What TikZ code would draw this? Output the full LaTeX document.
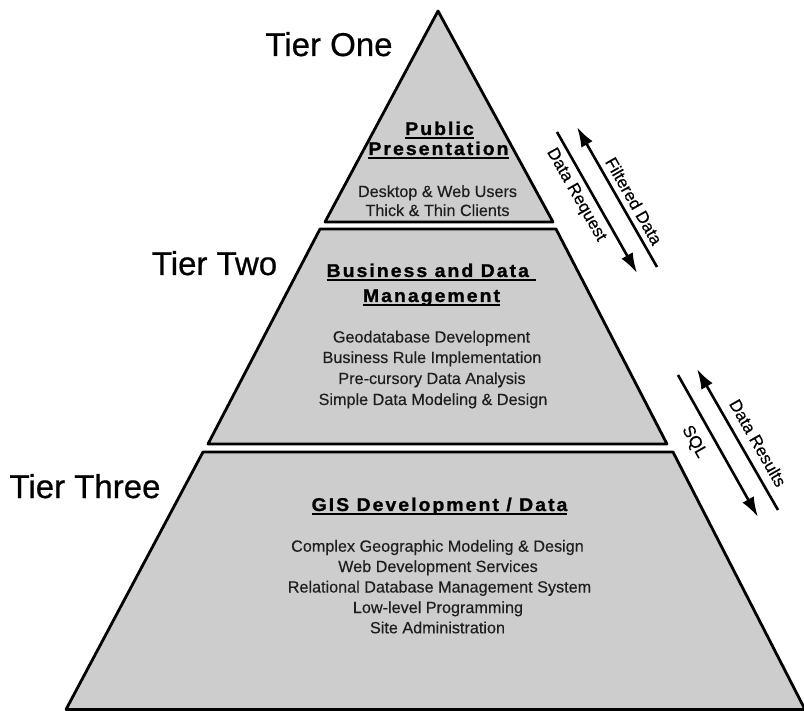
\documentclass[tikz,border=0pt]{standalone}
\usepackage{fontspec}
\setmainfont{Liberation Sans}
\newfontfamily\ttlfont{Liberation Sans}[LetterSpace=11,FakeStretch=1.05,BoldFont={Liberation Sans Bold},BoldFeatures={FakeBold=1.2}]
\newfontfamily\tierfont{Liberation Sans}[FakeBold=0.6]
\newfontfamily\bodyfont{Liberation Sans}[FakeBold=0.3]
\usetikzlibrary{arrows.meta}
\definecolor{pyrfill}{HTML}{CDCDCD}
\definecolor{bodytext}{HTML}{1E1E1E}
\newcommand\myul[1]{\setbox0\hbox{#1}\rlap{\rule[-4pt]{\wd0}{1.9pt}}\box0}
\tikzset{
  tier/.style={draw=black, line width=2.8pt, line join=round, fill=pyrfill},
  tierlbl/.style={anchor=base, inner sep=0pt, font=\fontsize{33}{36}\selectfont\tierfont},
  ttl/.style={anchor=base, inner sep=0pt, font=\fontsize{18.5}{22}\selectfont\ttlfont\bfseries},
  bodyline/.style={anchor=base, inner sep=0pt, text=bodytext, font=\fontsize{16.2}{19}\selectfont\bodyfont},
  flow/.style={line width=2.6pt, -{Latex[length=20pt,width=13pt]}},
  flowlbl/.style={inner sep=0pt, rotate=-60.4, font=\fontsize{17}{20}\selectfont\bodyfont}
}
\begin{document}
\begin{tikzpicture}[x=1pt,y=-1pt]
\useasboundingbox (0,0) rectangle (804,711);
% pyramid tiers
\draw[tier] (438,11) -- (553,222) -- (325,222) -- cycle;
\draw[tier] (320,229) -- (556,229) -- (667,444) -- (208,444) -- cycle;
\draw[tier] (203,452) -- (673,452) -- (805,709.5) -- (66,709.5) -- cycle;
% tier labels
\node[tierlbl] (t1) at (329,56) {Tier One};
\node[tierlbl] (t2) at (214.5,275) {Tier Two};
\node[tierlbl] (t3) at (85,498) {Tier Three};
% tier one text
\node[ttl] (p1) at (439.5,135) {\myul{Public}};
\node[ttl] (p2) at (438.5,155) {\myul{Presentation}};
\node[bodyline] (p3) at (437.5,197) {Desktop \& Web Users};
\node[bodyline] (p4) at (437.5,216) {Thick \& Thin Clients};
% tier two text
\node[ttl] (b1) at (431.5,277) {\myul{Business and Data\ }};
\node[ttl] (b2) at (431.5,302) {\myul{Management}};
\node[bodyline] (b3) at (431.5,342.5) {Geodatabase Development};
\node[bodyline] (b4) at (432,363) {Business Rule Implementation};
\node[bodyline] (b5) at (432,384) {Pre-cursory Data Analysis};
\node[bodyline] (b6) at (433,405) {Simple Data Modeling \& Design};
% tier three text
\node[ttl] (g1) at (439.5,511) {\myul{GIS Development / Data}};
\node[bodyline] (g2) at (437.5,551.7) {Complex Geographic Modeling \& Design};
\node[bodyline] (g3) at (438,572) {Web Development Services};
\node[bodyline] (g4) at (439.5,592.5) {Relational Database Management System};
\node[bodyline] (g5) at (438,613) {Low-level Programming};
\node[bodyline] (g6) at (437.5,633.3) {Site Administration};
% flow arrows
\coordinate (drA) at (557,132);
\coordinate (drB) at (637,273);
\coordinate (fdA) at (657,267);
\coordinate (fdB) at (577,127);
\coordinate (sqA) at (678,375);
\coordinate (sqB) at (758,517);
\coordinate (rsA) at (778,510);
\coordinate (rsB) at (697,369);
\draw[flow] (drA) -- (drB);
\draw[flow] (fdA) -- (fdB);
\draw[flow] (sqA) -- (sqB);
\draw[flow] (rsA) -- (rsB);
\node[flowlbl] (l1) at (576,195) {Data Request};
\node[flowlbl] (l2) at (634,201) {Filtered Data};
\node[flowlbl] (l3) at (694,442) {SQL};
\node[flowlbl] (l4) at (758,443) {Data Results};
\end{tikzpicture}
\end{document}
